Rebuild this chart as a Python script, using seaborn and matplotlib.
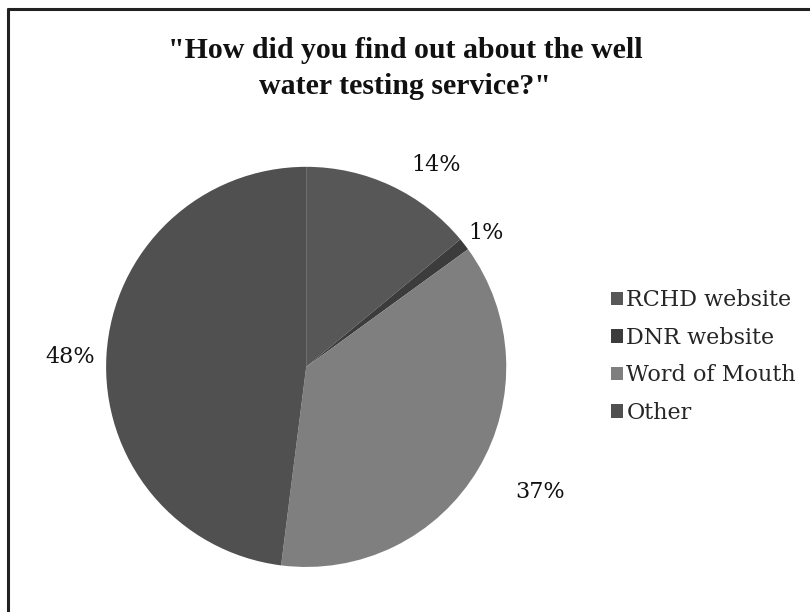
import matplotlib
matplotlib.use("Agg")
import matplotlib.pyplot as plt
from matplotlib.lines import Line2D
import seaborn as sns

categories = ["RCHD website", "DNR website", "Word of Mouth", "Other"]
values = [14, 1, 37, 48]
colors = ["#575757", "#3c3c3c", "#7f7f7f", "#505050"]
title = '"How did you find out about the well\nwater testing service?"'

sns.set_theme(style="white")
plt.rcParams["font.family"] = ["DejaVu Serif", "Liberation Serif"]

fig = plt.figure(figsize=(8.1, 6.12), dpi=100)
fig.patch.set_facecolor("white")

ax = fig.add_axes([0.131, 0.0735, 0.494, 0.654])
wedges, texts, autotexts = ax.pie(
    values, colors=colors, startangle=90, counterclock=False,
    autopct=lambda p: f"{p:.0f}%", pctdistance=1.2,
    wedgeprops=dict(linewidth=0), textprops=dict(fontsize=16, color="#111111"),
)
ax.set_xlim(-1, 1)
ax.set_ylim(-1, 1)
ax.set_aspect("equal")

# label placement (layout only)
label_pos = [(0.65, 1.01), (0.90, 0.67), (1.17, -0.625), (-1.18, 0.05)]
for t, pos in zip(autotexts, label_pos):
    t.set_position(pos)
    t.set_ha("center")
    t.set_va("center")

fig.text(0.5, 0.888, title, ha="center", va="center", fontsize=21.5,
         fontweight="bold", color="#111111", linespacing=1.45,
         family=["Liberation Serif", "DejaVu Serif"])

leg = fig.legend(wedges, categories, loc="upper left",
                 bbox_to_anchor=(0.735, 0.553), frameon=False,
                 fontsize=16, handlelength=0.55, handleheight=0.55,
                 handletextpad=0.15, labelspacing=0.7, borderpad=0.2)

# partial frame (top and left)
fig.add_artist(Line2D([0.01, 1.0], [0.985, 0.985], transform=fig.transFigure,
                      color="#222222", linewidth=2.2))
fig.add_artist(Line2D([0.01, 0.01], [0.0, 0.985], transform=fig.transFigure,
                      color="#222222", linewidth=2.2))

fig.savefig("out.png", dpi=100, facecolor="white")
